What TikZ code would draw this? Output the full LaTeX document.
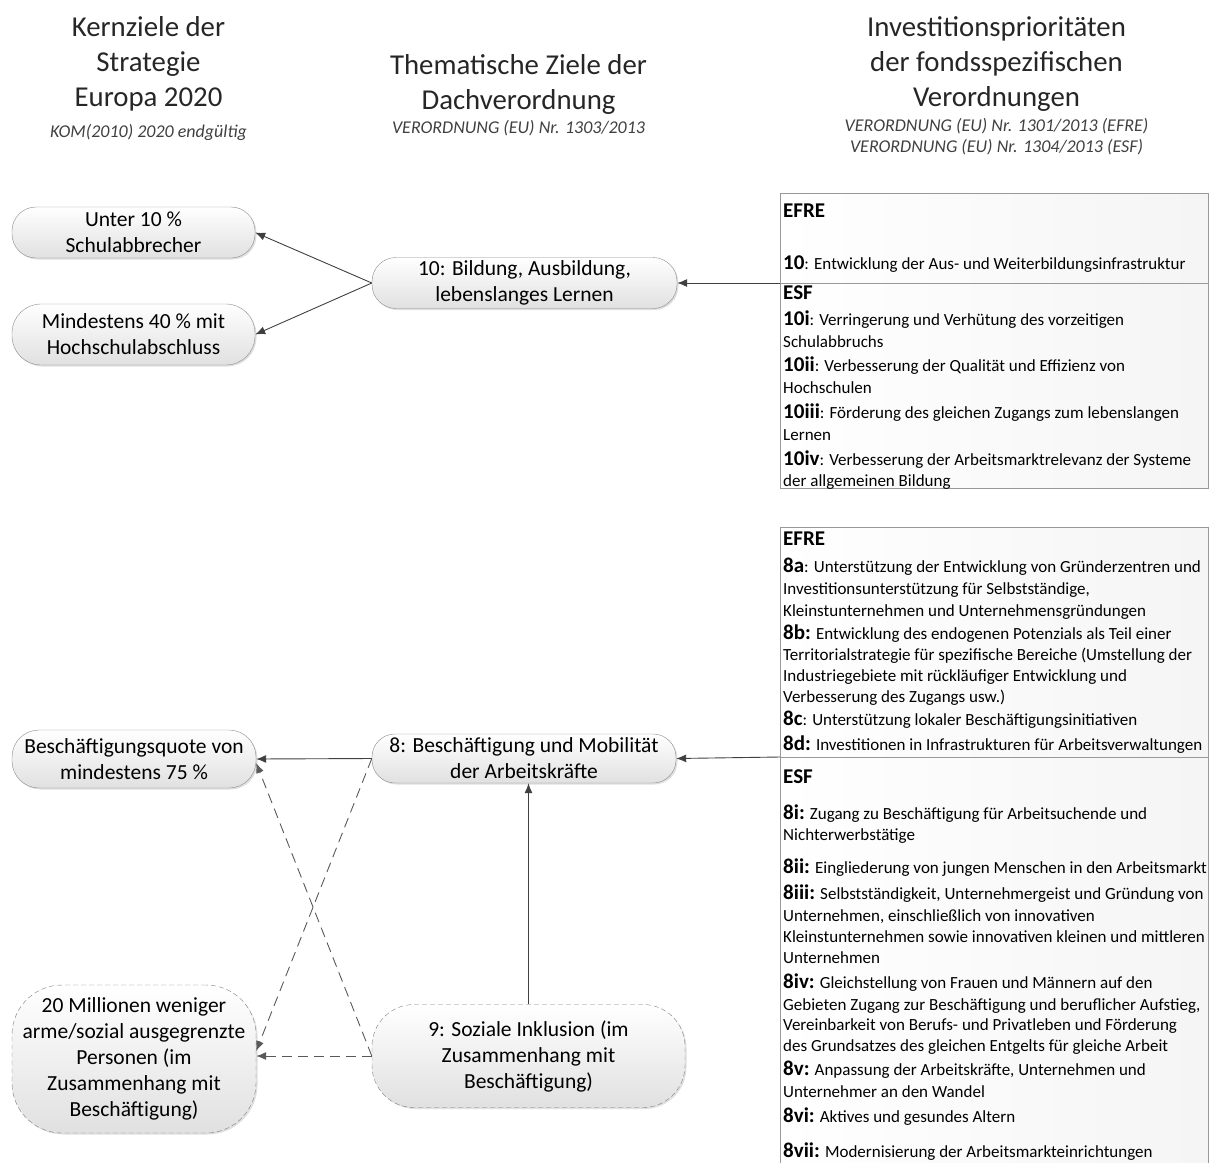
\documentclass[tikz,border=0pt]{standalone}
\usepackage{fontspec}
\setmainfont{Carlito}
\usetikzlibrary{arrows.meta, shadows}

\definecolor{headgray}{HTML}{262626}
\definecolor{subgray}{HTML}{404040}
\definecolor{linegray}{HTML}{404040}

% bold priority label in the fund boxes
\newcommand\lbl[1]{{\fontsize{21}{21}\selectfont\bfseries #1}}

\begin{document}
\begin{tikzpicture}[x=1pt, y=-1pt,
goal/.style={draw=black!45, rounded corners=24pt, top color=white, bottom color=black!12,
  drop shadow={shadow xshift=1.5pt, shadow yshift=-1.5pt, opacity=0.25},
  align=center, inner sep=0pt, font=\fontsize{21.5}{26}\selectfont},
softgoal/.style={goal, draw=black!50, dash pattern=on 5pt off 3pt, rounded corners=42pt},
fundbox/.style={draw=black!40, left color=white, right color=black!4, line width=0.8pt,
  anchor=north west, inner sep=0pt, minimum width=428pt},
head/.style={align=center, text=headgray, font=\fontsize{28.8}{35}\selectfont},
sub/.style={align=center, text=subgray, font=\fontsize{18}{21}\itshape\selectfont},
prio/.style={anchor=base west, inner sep=0pt, font=\fontsize{17}{21}\selectfont},
link/.style={draw=linegray, line width=0.9pt, -{Latex[length=10pt, width=8pt]}},
loose/.style={link, draw=black!65, dash pattern=on 10pt off 6pt}]

\useasboundingbox (0,0) rectangle (1209,1162);

% column heads
\node[head] (kernHead) at (148.5,63.5) {Kernziele der\\Strategie\\Europa 2020};
\node[sub] (kernSrc) at (148.5,132) {KOM(2010) 2020 endgültig};
\node[head] (themHead) at (518.5,84) {Thematische Ziele der\\Dachverordnung};
\node[sub] (themSrc) at (518.5,128) {VERORDNUNG (EU) Nr. 1303/2013};
\node[head] (invHead) at (996.5,64.5) {Investitionsprioritäten\\der fondsspezifischen\\Verordnungen};
\node[sub] (invSrc) at (996.5,136.5) {VERORDNUNG (EU) Nr. 1301/2013 (EFRE)\\VERORDNUNG (EU) Nr. 1304/2013 (ESF)};

% goals
\node[goal, minimum width=243pt, minimum height=51pt] (unter) at (133.5,232.5) {Unter 10 \%\\Schulabbrecher};
\node[goal, minimum width=243pt, minimum height=61pt, rounded corners=29pt] (hochschul) at (133.5,334.5) {Mindestens 40 \% mit\\Hochschulabschluss};
\node[goal, minimum width=305pt, minimum height=51pt] (bildung) at (524.5,283) {10: Bildung, Ausbildung,\\lebenslanges Lernen};
\node[goal, minimum width=244pt, minimum height=58pt, rounded corners=27pt] (quote) at (134,759) {Beschäftigungsquote von\\mindestens 75 \%};
\node[goal, minimum width=304pt, minimum height=49pt, rounded corners=23pt] (beschaeft) at (524,758.5) {8: Beschäftigung und Mobilität\\der Arbeitskräfte};
\node[softgoal, minimum width=244pt, minimum height=148pt, rounded corners=50pt] (armut) at (134,1059) {20 Millionen weniger\\arme/sozial ausgegrenzte\\Personen (im\\Zusammenhang mit\\Beschäftigung)};
\node[softgoal, minimum width=313pt, minimum height=103pt] (inklusion) at (528.5,1056) {9: Soziale Inklusion (im\\Zusammenhang mit\\Beschäftigung)};

% fund boxes
\node[fundbox, minimum height=91pt] (efreTop) at (780,193) {};
\node[fundbox, minimum height=205pt] (esfTop) at (780,283) {};
\node[fundbox, minimum height=230pt] (efreBot) at (780,527) {};
\node[fundbox, minimum height=420pt] (esfBot) at (780,757) {};

\foreach \yy/\txt [count=\k] in {217/{\lbl{EFRE}},
  269/{\lbl{10}: Entwicklung der Aus- und Weiterbildungsinfrastruktur}}
  \node[prio] (efreTop-\k) at (783,\yy) {\txt};

\foreach \yy/\txt [count=\k] in {299/{\lbl{ESF}},
  325/{\lbl{10i}: Verringerung und Verhütung des vorzeitigen},
  347/{Schulabbruchs},
  371/{\lbl{10ii}: Verbesserung der Qualität und Effizienz von},
  393/{Hochschulen},
  418/{\lbl{10iii}: Förderung des gleichen Zugangs zum lebenslangen},
  440/{Lernen},
  465/{\lbl{10iv}: Verbesserung der Arbeitsmarktrelevanz der Systeme},
  486/{der allgemeinen Bildung}}
  \node[prio] (esfTop-\k) at (783,\yy) {\txt};

\foreach \yy/\txt [count=\k] in {545/{\lbl{EFRE}},
  572/{\lbl{8a}: Unterstützung der Entwicklung von Gründerzentren und},
  594/{Investitionsunterstützung für Selbstständige,},
  616/{Kleinstunternehmen und Unternehmensgründungen},
  639/{\lbl{8b:} Entwicklung des endogenen Potenzials als Teil einer},
  660/{Territorialstrategie für spezifische Bereiche (Umstellung der},
  681/{Industriegebiete mit rückläufiger Entwicklung und},
  702/{Verbesserung des Zugangs usw.)},
  725/{\lbl{8c}: Unterstützung lokaler Beschäftigungsinitiativen},
  750/{\lbl{8d:} Investitionen in Infrastrukturen für Arbeitsverwaltungen}}
  \node[prio] (efreBot-\k) at (783,\yy) {\txt};

\foreach \yy/\txt [count=\k] in {783/{\lbl{ESF}},
  819/{\lbl{8i:} Zugang zu Beschäftigung für Arbeitsuchende und},
  840/{Nichterwerbstätige},
  873/{\lbl{8ii:} Eingliederung von jungen Menschen in den Arbeitsmarkt},
  899/{\lbl{8iii:} Selbstständigkeit, Unternehmergeist und Gründung von},
  921/{Unternehmen, einschließlich von innovativen},
  942/{Kleinstunternehmen sowie innovativen kleinen und mittleren},
  963/{Unternehmen},
  988/{\lbl{8iv:} Gleichstellung von Frauen und Männern auf den},
  1010/{Gebieten Zugang zur Beschäftigung und beruflicher Aufstieg,},
  1030/{Vereinbarkeit von Berufs- und Privatleben und Förderung},
  1051/{des Grundsatzes des gleichen Entgelts für gleiche Arbeit},
  1075/{\lbl{8v:} Anpassung der Arbeitskräfte, Unternehmen und},
  1097/{Unternehmer an den Wandel},
  1122/{\lbl{8vi:} Aktives und gesundes Altern},
  1157/{\lbl{8vii:} Modernisierung der Arbeitsmarkteinrichtungen}}
  \node[prio] (esfBot-\k) at (783,\yy) {\txt};

% connectors
\draw[link] (esfTop.north west) -- (bildung.east);
\draw[link] (bildung.west) -- (unter.east);
\draw[link] (bildung.west) -- (hochschul.east);
\draw[link] (esfBot.north west) -- (beschaeft.east);
\draw[link] (beschaeft.west) -- (quote.east);
\draw[link] (inklusion.north) -- (inklusion.north |- beschaeft.south);
\draw[loose] (beschaeft.west) -- ([yshift=8pt]armut.east);
\draw[loose] (inklusion.west) -- ([yshift=-4pt]quote.east);
\draw[loose] (inklusion.west) -- (inklusion.west -| armut.east);

\end{tikzpicture}
\end{document}
